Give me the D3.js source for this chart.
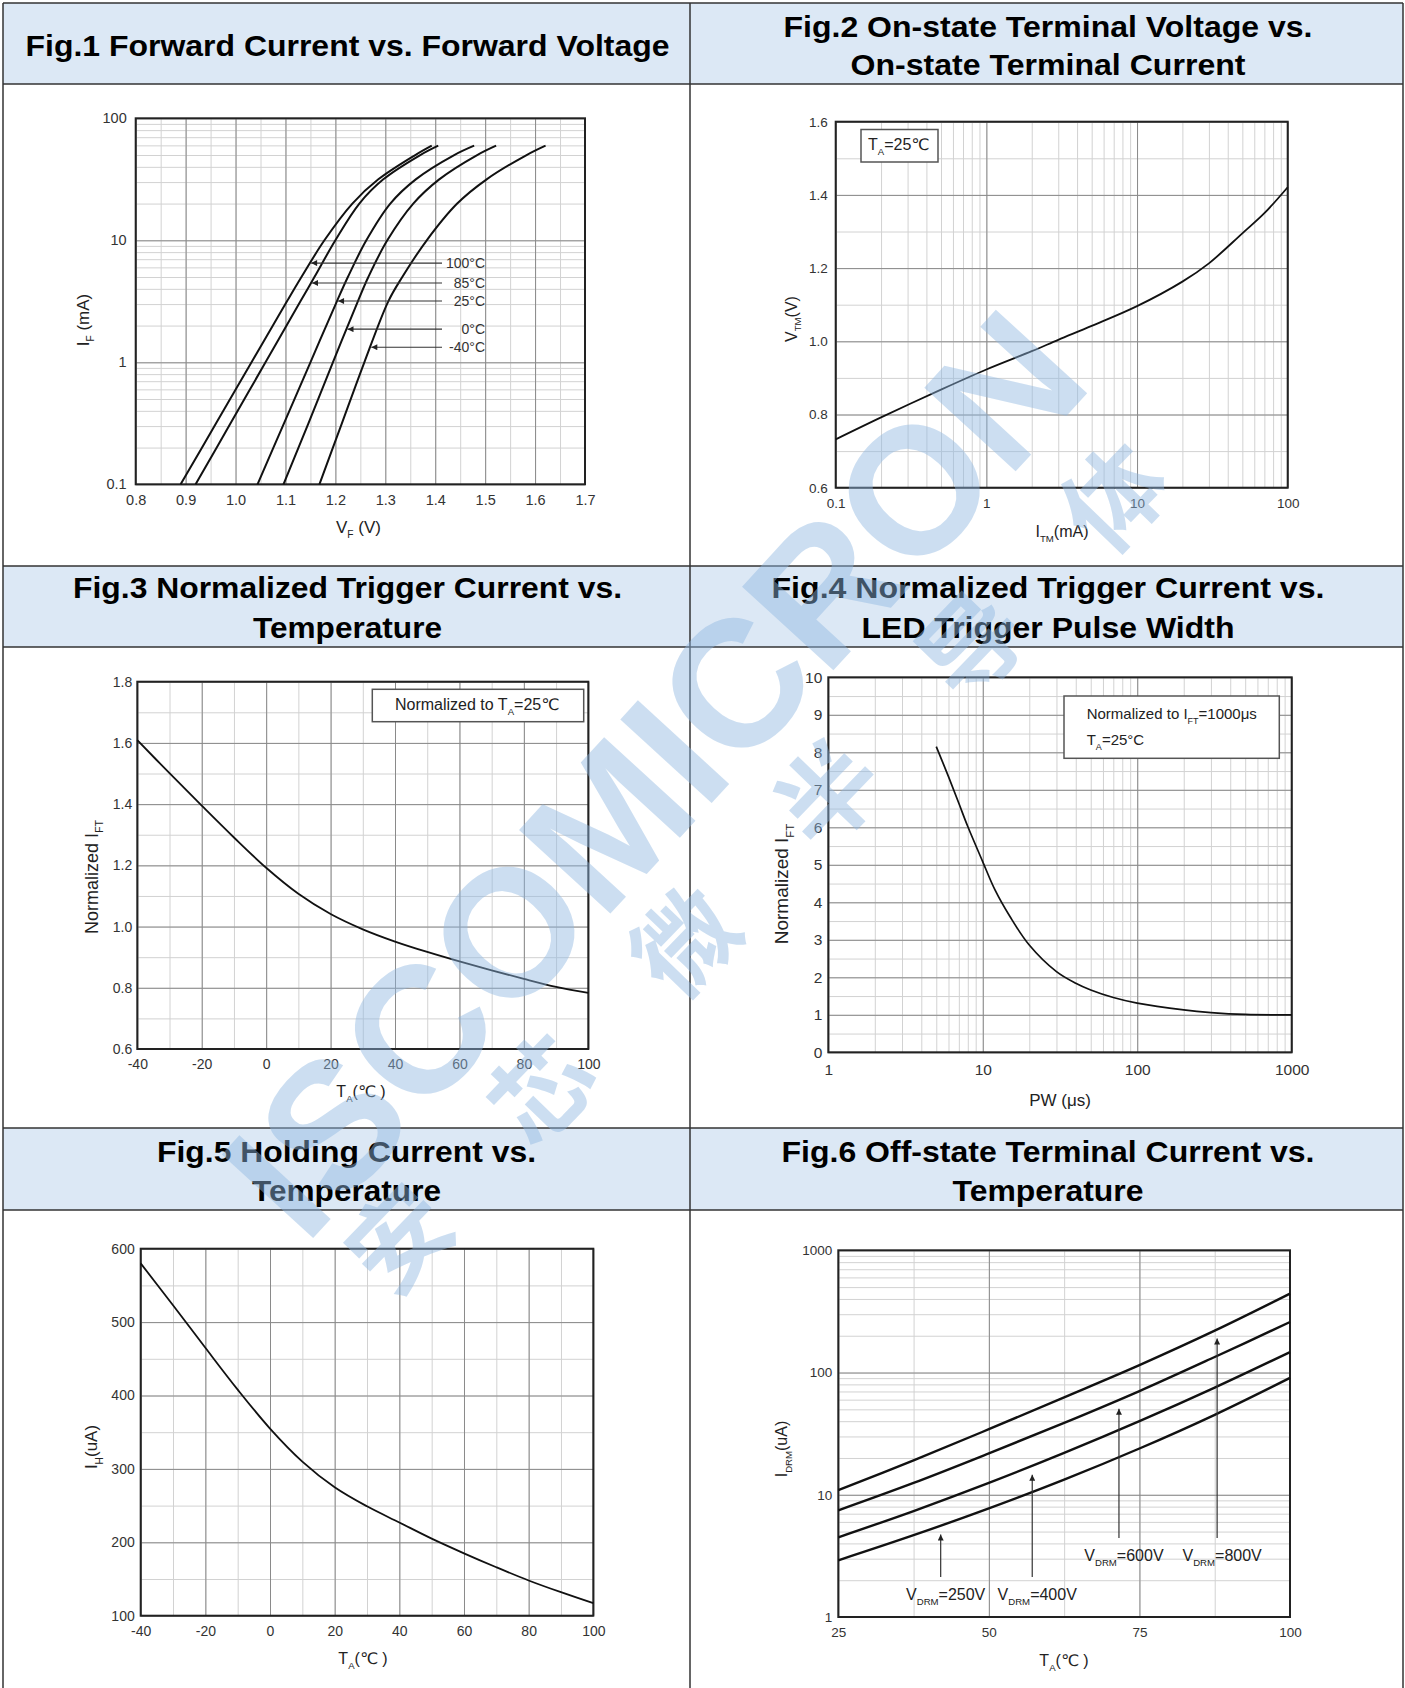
<!DOCTYPE html>
<html>
<head>
<meta charset="utf-8">
<script src="https://cdn.jsdelivr.net/npm/d3@7"></script>
<style>
  body { margin: 0; background: #fff; }
  svg text { font-family: "Liberation Sans", Arial, "DejaVu Sans", "Noto Sans CJK SC", sans-serif; }
</style>
</head>
<body>
<svg id="chart" width="1405" height="1688"></svg>
<script>
// ---- Fig.1 forward current vs forward voltage ----
var fig1Current = [0.1, 0.316, 1, 3.16, 5, 10, 20, 31.6, 50, 59.7];
var fig1V100 = [0.890, 0.961, 1.032, 1.103, 1.132, 1.178, 1.234, 1.286, 1.360, 1.393];
var fig1V85  = [0.920, 0.990, 1.060, 1.130, 1.158, 1.200, 1.248, 1.296, 1.370, 1.406];
var fig1V25  = [1.044, 1.097, 1.150, 1.203, 1.225, 1.262, 1.310, 1.361, 1.438, 1.478];
var fig1V0   = [1.096, 1.146, 1.195, 1.245, 1.266, 1.304, 1.356, 1.408, 1.484, 1.522];
var fig1Vm40 = [1.168, 1.213, 1.258, 1.306, 1.334, 1.383, 1.444, 1.503, 1.583, 1.621];
var fig1Labels = ["100°C", "85°C", "25°C", "0°C", "-40°C"];
var fig1LabelCurrent = [6.5, 4.47, 3.18, 1.87, 1.33];
var fig1XTicks = [0.8, 0.9, 1.0, 1.1, 1.2, 1.3, 1.4, 1.5, 1.6, 1.7];
var fig1YTicks = [0.1, 1, 10, 100];

// ---- Fig.2 on-state voltage vs current ----
var fig2Current = [0.1, 0.2, 0.5, 1, 2, 3, 5, 10, 20, 30, 50, 70, 100];
var fig2Voltage = [0.732, 0.792, 0.868, 0.923, 0.973, 1.004, 1.042, 1.096, 1.163, 1.213, 1.295, 1.350, 1.421];
var fig2XTicks = [0.1, 1, 10, 100];
var fig2YTicks = [0.6, 0.8, 1.0, 1.2, 1.4, 1.6];

// ---- Fig.3 normalized trigger current vs temperature ----
var fig3Temp = [-40, -30, -20, -10, 0, 10, 20, 30, 40, 50, 60, 70, 80, 90, 100];
var fig3Norm = [1.609, 1.501, 1.395, 1.291, 1.192, 1.107, 1.041, 0.991, 0.951, 0.917, 0.886, 0.857, 0.829, 0.803, 0.783];
var fig3XTicks = [-40, -20, 0, 20, 40, 60, 80, 100];
var fig3YTicks = [0.6, 0.8, 1.0, 1.2, 1.4, 1.6, 1.8];

// ---- Fig.4 normalized trigger current vs pulse width ----
var fig4PW   = [5, 6, 7, 8, 10, 12, 15, 20, 30, 40, 50, 70, 100, 200, 300, 500, 1000];
var fig4Norm = [8.15, 7.35, 6.64, 6.02, 5.08, 4.33, 3.62, 2.86, 2.15, 1.84, 1.66, 1.46, 1.31, 1.13, 1.06, 1.01, 1.0];
var fig4XTicks = [1, 10, 100, 1000];
var fig4YTicks = [0, 1, 2, 3, 4, 5, 6, 7, 8, 9, 10];

// ---- Fig.5 holding current vs temperature ----
var fig5Temp = [-40, -30, -20, -10, 0, 10, 20, 30, 40, 50, 60, 70, 80, 90, 100];
var fig5Hold = [580, 523, 465, 408, 355, 310, 275, 249, 227, 205, 185, 166, 148, 132, 117];
var fig5XTicks = [-40, -20, 0, 20, 40, 60, 80, 100];
var fig5YTicks = [100, 200, 300, 400, 500, 600];

// ---- Fig.6 off-state current vs temperature ----
var fig6Temp = [25, 37.5, 50, 62.5, 75, 87.5, 100];
var fig6V800 = [10.9, 19.1, 34.4, 62.7, 115, 220, 442];
var fig6V600 = [7.46, 12.5, 21.8, 38.7, 70.5, 134, 259];
var fig6V400 = [4.49, 7.36, 12.5, 22.0, 40.0, 75.3, 147];
var fig6V250 = [2.91, 4.67, 7.74, 13.3, 23.9, 45.1, 90.4];
var fig6Labels = ["250V", "400V", "600V", "800V"];
var fig6ArrowTemp = [42, 57.2, 71.6, 87.9];
var fig6XTicks = [25, 50, 75, 100];
var fig6XGrid = [25, 37.5, 50, 62.5, 75, 87.5, 100];
var fig6YTicks = [1, 10, 100, 1000];

var watermarkLatin = "ISCOMICRON";
var watermarkCjk = "安芯微半导体";

var MAJOR = "#8a8a8a", MINOR = "#d2d2d2", INK = "#333";
var svg = d3.select("#chart");

var defs = svg.append("defs");
defs.append("marker").attr("id", "arrow")
  .attr("viewBox", "0 0 10 10").attr("refX", 10).attr("refY", 5)
  .attr("markerUnits", "userSpaceOnUse").attr("markerWidth", 8).attr("markerHeight", 6)
  .attr("orient", "auto")
  .append("path").attr("d", "M0,0L10,5L0,10z").attr("fill", "#222");

// text with _{sub} markup
function rich(sel, str, fs) {
  var re = /_\{([^}]*)\}/g, last = 0, m, parts = [];
  while ((m = re.exec(str))) {
    if (m.index > last) parts.push({t: str.slice(last, m.index)});
    parts.push({t: m[1], sub: true});
    last = re.lastIndex;
  }
  if (last < str.length) parts.push({t: str.slice(last)});
  var shift = fs * 0.3;
  parts.forEach(function(p, i) {
    var ts = sel.append("tspan").text(p.t);
    if (p.sub) ts.attr("font-size", fs * 0.6).attr("dy", shift);
    else if (i > 0 && parts[i - 1].sub) ts.attr("dy", -shift);
  });
  return sel;
}

function label(str, x, y, fs, anchor) {
  var t = svg.append("text").attr("x", x).attr("y", y)
    .attr("font-size", fs).attr("fill", "#222")
    .attr("text-anchor", anchor || "start");
  return rich(t, str, fs);
}

function yTitle(str, cx, cy, fs) {
  var t = svg.append("text")
    .attr("transform", "translate(" + (cx + fs * 0.35) + "," + cy + ") rotate(-90)")
    .attr("text-anchor", "middle").attr("font-size", fs).attr("fill", "#222");
  rich(t, str, fs);
}

// ---------- table frame ----------
var headerRows = [[3, 84], [566, 647], [1128, 1210]];
headerRows.forEach(function(r) {
  svg.append("rect").attr("x", 3).attr("y", r[0]).attr("width", 1400).attr("height", r[1] - r[0])
    .attr("fill", "#dce8f5");
});
[3, 84, 566, 647, 1128, 1210].forEach(function(yy) {
  svg.append("line").attr("x1", 3).attr("x2", 1403).attr("y1", yy).attr("y2", yy)
    .attr("stroke", "#333").attr("stroke-width", 1.5);
});
[3, 690, 1403].forEach(function(xx) {
  svg.append("line").attr("x1", xx).attr("x2", xx).attr("y1", 3).attr("y2", 1688)
    .attr("stroke", "#333").attr("stroke-width", 1.5);
});

var titles = [
  {cx: 347.5, lines: [["Fig.1 Forward Current vs. Forward Voltage", 56, 644]]},
  {cx: 1048, lines: [["Fig.2 On-state Terminal Voltage vs.", 36.5, 529], ["On-state Terminal Current", 75, 395]]},
  {cx: 347.5, lines: [["Fig.3 Normalized Trigger Current vs.", 598, 549], ["Temperature", 637.5, 189]]},
  {cx: 1048, lines: [["Fig.4 Normalized Trigger Current vs.", 598, 553], ["LED Trigger Pulse Width", 637.5, 373]]},
  {cx: 346.5, lines: [["Fig.5 Holding Current vs.", 1161.5, 379], ["Temperature", 1200.5, 189]]},
  {cx: 1048, lines: [["Fig.6 Off-state Terminal Current vs.", 1161.5, 533], ["Temperature", 1200.5, 191]]}
];
titles.forEach(function(t) {
  t.lines.forEach(function(l) {
    svg.append("text").attr("x", t.cx).attr("y", l[1]).attr("text-anchor", "middle")
      .attr("font-size", 29.5).attr("font-weight", "bold").attr("fill", "#000")
      .attr("textLength", l[2]).attr("lengthAdjust", "spacingAndGlyphs")
      .text(l[0]);
  });
});

// ---------- generic panel ----------
function panel(p) {
  var g = svg.append("g");
  var x = (p.xLog ? d3.scaleLog() : d3.scaleLinear()).domain(p.xDomain).range([p.left, p.right]);
  var y = (p.yLog ? d3.scaleLog() : d3.scaleLinear()).domain(p.yDomain).range([p.bottom, p.top]);
  var w = p.right - p.left, h = p.bottom - p.top;

  function vgrid(vals, color) {
    g.append("g").attr("transform", "translate(0," + p.bottom + ")")
      .call(d3.axisBottom(x).tickValues(vals).tickSize(-h).tickFormat(""))
      .call(function(s) { s.select(".domain").remove(); })
      .selectAll("line").attr("stroke", color).attr("stroke-width", 1);
  }
  function hgrid(vals, color) {
    g.append("g").attr("transform", "translate(" + p.left + ",0)")
      .call(d3.axisLeft(y).tickValues(vals).tickSize(-w).tickFormat(""))
      .call(function(s) { s.select(".domain").remove(); })
      .selectAll("line").attr("stroke", color).attr("stroke-width", 1);
  }
  vgrid(p.xMinor, MINOR); hgrid(p.yMinor, MINOR);
  vgrid(p.xMajor, MAJOR); hgrid(p.yMajor, MAJOR);

  g.append("rect").attr("x", p.left).attr("y", p.top).attr("width", w).attr("height", h)
    .attr("fill", "none").attr("stroke", "#222").attr("stroke-width", 2);

  var xa = g.append("g").attr("transform", "translate(0," + p.bottom + ")")
    .call(d3.axisBottom(x).tickValues(p.xTicks).tickFormat(p.xFormat).tickSize(0).tickPadding(p.xPad));
  xa.select(".domain").remove();
  xa.selectAll("text").attr("font-size", p.fs).attr("fill", INK)
    .style("font-family", '"Liberation Sans", Arial, sans-serif');

  var ya = g.append("g").attr("transform", "translate(" + p.left + ",0)")
    .call(d3.axisLeft(y).tickValues(p.yTicks).tickFormat(p.yFormat).tickSize(0).tickPadding(p.yPad));
  ya.select(".domain").remove();
  ya.selectAll("text").attr("font-size", p.fs).attr("fill", INK)
    .style("font-family", '"Liberation Sans", Arial, sans-serif');

  var line = d3.line().x(function(d) { return x(d[0]); }).y(function(d) { return y(d[1]); })
    .curve(d3.curveCatmullRom.alpha(0.5));
  p.series.forEach(function(s) {
    g.append("path").datum(d3.zip(s[0], s[1])).attr("d", line)
      .attr("fill", "none").attr("stroke", "#111").attr("stroke-width", p.lw)
      .attr("stroke-linejoin", "round");
  });
  return {g: g, x: x, y: y};
}

var fix1 = function(d) { return d.toFixed(1); };
var plain = function(d) { return String(d); };

// Fig.1
var sc1 = d3.scaleLinear().domain([0.8, 1.7]);
var sc1y = d3.scaleLog().domain([0.1, 100]);
var p1 = panel({
  left: 135.7, right: 585, top: 118.3, bottom: 484.3,
  xDomain: [0.8, 1.7], yDomain: [0.1, 100], yLog: true,
  xMinor: sc1.ticks(18), xMajor: fig1XTicks, yMinor: sc1y.ticks(), yMajor: fig1YTicks,
  xTicks: fig1XTicks, yTicks: fig1YTicks, xFormat: fix1, yFormat: plain,
  xPad: 10, yPad: 9, fs: 14.5, lw: 2,
  series: [[fig1V100, fig1Current], [fig1V85, fig1Current], [fig1V25, fig1Current], [fig1V0, fig1Current], [fig1Vm40, fig1Current]]
});
yTitle("I_{F} (mA)", 83, 320, 17);
label("V_{F} (V)", 358.5, 533, 17, "middle");

function voltageAt(vs, cur) {
  var lc = Math.log10(cur);
  for (var i = 0; i < fig1Current.length - 1; i++) {
    var a = Math.log10(fig1Current[i]), b = Math.log10(fig1Current[i + 1]);
    if (lc >= a && lc <= b) return vs[i] + (lc - a) / (b - a) * (vs[i + 1] - vs[i]);
  }
  return vs[0];
}
var fig1Series = [fig1V100, fig1V85, fig1V25, fig1V0, fig1Vm40];
fig1Labels.forEach(function(txt, i) {
  var yy = p1.y(fig1LabelCurrent[i]);
  var tip = p1.x(voltageAt(fig1Series[i], fig1LabelCurrent[i])) + 1;
  svg.append("line").attr("x1", 442).attr("x2", tip).attr("y1", yy).attr("y2", yy)
    .attr("stroke", "#333").attr("stroke-width", 1.1).attr("marker-end", "url(#arrow)");
  label(txt, 485, yy + 5, 14, "end").attr("fill", "#333");
});

// Fig.2
var sc2x = d3.scaleLog().domain([0.1, 100]);
var sc2y = d3.scaleLinear().domain([0.6, 1.6]);
var p2 = panel({
  left: 835.7, right: 1287.7, top: 121.7, bottom: 487.7,
  xDomain: [0.1, 100], xLog: true, yDomain: [0.6, 1.6],
  xMinor: sc2x.ticks(), xMajor: fig2XTicks, yMinor: sc2y.ticks(10), yMajor: fig2YTicks,
  xTicks: fig2XTicks, yTicks: fig2YTicks, xFormat: plain, yFormat: fix1,
  xPad: 11, yPad: 8, fs: 13.5, lw: 1.8,
  series: [[fig2Current, fig2Voltage]]
});
yTitle("V_{TM}(V)", 791, 319, 16);
label("I_{TM}(mA)", 1062, 537, 16, "middle");
svg.append("rect").attr("x", 861).attr("y", 129.5).attr("width", 77).attr("height", 32.5)
  .attr("fill", "#fff").attr("stroke", "#555").attr("stroke-width", 1.5);
label("T_{A}=25℃", 868, 150, 16);

// Fig.3
var sc3x = d3.scaleLinear().domain([-40, 100]);
var sc3y = d3.scaleLinear().domain([0.6, 1.8]);
var p3 = panel({
  left: 137.3, right: 588.3, top: 681.7, bottom: 1049,
  xDomain: [-40, 100], yDomain: [0.6, 1.8],
  xMinor: sc3x.ticks(14), xMajor: fig3XTicks, yMinor: sc3y.ticks(12), yMajor: fig3YTicks,
  xTicks: fig3XTicks, yTicks: fig3YTicks, xFormat: plain, yFormat: fix1,
  xPad: 10, yPad: 5, fs: 14, lw: 1.8,
  series: [[fig3Temp, fig3Norm]]
});
yTitle("Normalized  I_{FT}", 91.5, 877, 18);
label("T_{A}(℃ )", 361, 1097, 16, "middle");
svg.append("rect").attr("x", 372.3).attr("y", 689.3).attr("width", 211.4).attr("height", 32.4)
  .attr("fill", "#fff").attr("stroke", "#555").attr("stroke-width", 1.5);
label("Normalized to T_{A}=25℃", 395, 710, 16);

// Fig.4
var sc4x = d3.scaleLog().domain([1, 1000]);
var sc4y = d3.scaleLinear().domain([0, 10]);
var p4 = panel({
  left: 828.3, right: 1291.7, top: 677.3, bottom: 1052.3,
  xDomain: [1, 1000], xLog: true, yDomain: [0, 10],
  xMinor: sc4x.ticks(), xMajor: fig4XTicks, yMinor: sc4y.ticks(20), yMajor: fig4YTicks,
  xTicks: fig4XTicks, yTicks: fig4YTicks, xFormat: plain, yFormat: plain,
  xPad: 12, yPad: 6, fs: 15.5, lw: 1.7,
  series: [[fig4PW, fig4Norm]]
});
yTitle("Normalized I_{FT}", 781.7, 884, 19);
label("PW (μs)", 1060, 1106, 17, "middle");
svg.append("rect").attr("x", 1064).attr("y", 696).attr("width", 215.3).attr("height", 62.3)
  .attr("fill", "#fff").attr("stroke", "#555").attr("stroke-width", 1.5);
label("Normalized to I_{FT}=1000μs", 1086.7, 719, 15);
label("T_{A}=25°C", 1086.7, 745, 15);

// Fig.5
var sc5x = d3.scaleLinear().domain([-40, 100]);
var sc5y = d3.scaleLinear().domain([100, 600]);
var p5 = panel({
  left: 140.7, right: 593.3, top: 1248.7, bottom: 1615.7,
  xDomain: [-40, 100], yDomain: [100, 600],
  xMinor: sc5x.ticks(14), xMajor: fig5XTicks, yMinor: sc5y.ticks(10), yMajor: fig5YTicks,
  xTicks: fig5XTicks, yTicks: fig5YTicks, xFormat: plain, yFormat: plain,
  xPad: 10, yPad: 6, fs: 14, lw: 1.8,
  series: [[fig5Temp, fig5Hold]]
});
yTitle("I_{H}(uA)", 91.5, 1447, 17);
label("T_{A}(℃ )", 363, 1664, 16, "middle");

// Fig.6
var sc6y = d3.scaleLog().domain([1, 1000]);
var p6 = panel({
  left: 838.3, right: 1290, top: 1250.3, bottom: 1617,
  xDomain: [25, 100], yDomain: [1, 1000], yLog: true,
  xMinor: fig6XGrid, xMajor: fig6XTicks, yMinor: sc6y.ticks(), yMajor: fig6YTicks,
  xTicks: fig6XTicks, yTicks: fig6YTicks, xFormat: plain, yFormat: plain,
  xPad: 10, yPad: 6, fs: 13.5, lw: 2.4,
  series: [[fig6Temp, fig6V800], [fig6Temp, fig6V600], [fig6Temp, fig6V400], [fig6Temp, fig6V250]]
});
yTitle("I_{DRM}(uA)", 781.6, 1449, 16);
label("T_{A}(℃ )", 1064, 1666, 16, "middle");

function currentAt(vals, t) {
  for (var i = 0; i < fig6Temp.length - 1; i++) {
    if (t >= fig6Temp[i] && t <= fig6Temp[i + 1]) {
      var f = (t - fig6Temp[i]) / (fig6Temp[i + 1] - fig6Temp[i]);
      return Math.pow(10, Math.log10(vals[i]) + f * (Math.log10(vals[i + 1]) - Math.log10(vals[i])));
    }
  }
  return vals[0];
}
var fig6Targets = [fig6V250, fig6V400, fig6V600, fig6V800];
var fig6LabelBase = [1600, 1600, 1561, 1561];
fig6Labels.forEach(function(txt, i) {
  var ax = p6.x(fig6ArrowTemp[i]);
  var top = p6.y(currentAt(fig6Targets[i], fig6ArrowTemp[i])) + 9;
  svg.append("line").attr("x1", ax).attr("x2", ax).attr("y1", fig6LabelBase[i] - 23).attr("y2", top)
    .attr("stroke", "#333").attr("stroke-width", 1.2).attr("marker-end", "url(#arrow)");
  label("V_{DRM}=" + txt, ax + 5, fig6LabelBase[i], 16, "middle");
});

// ---------- watermark ----------
var wm = svg.append("g").attr("opacity", 0.45).style("pointer-events", "none");
wm.append("text")
  .attr("transform", "translate(305,1247) rotate(-47.5)")
  .attr("font-size", 180).attr("font-weight", "bold").attr("fill", "#8fb8e2")
  .text(watermarkLatin);
wm.append("text")
  .attr("transform", "translate(391,1300) rotate(-46)")
  .attr("font-size", 100).attr("font-weight", "bold").attr("fill", "#8fb8e2")
  .attr("letter-spacing", 106)
  .style("font-family", '"Noto Sans CJK SC", sans-serif')
  .text(watermarkCjk);
</script>
</body>
</html>
